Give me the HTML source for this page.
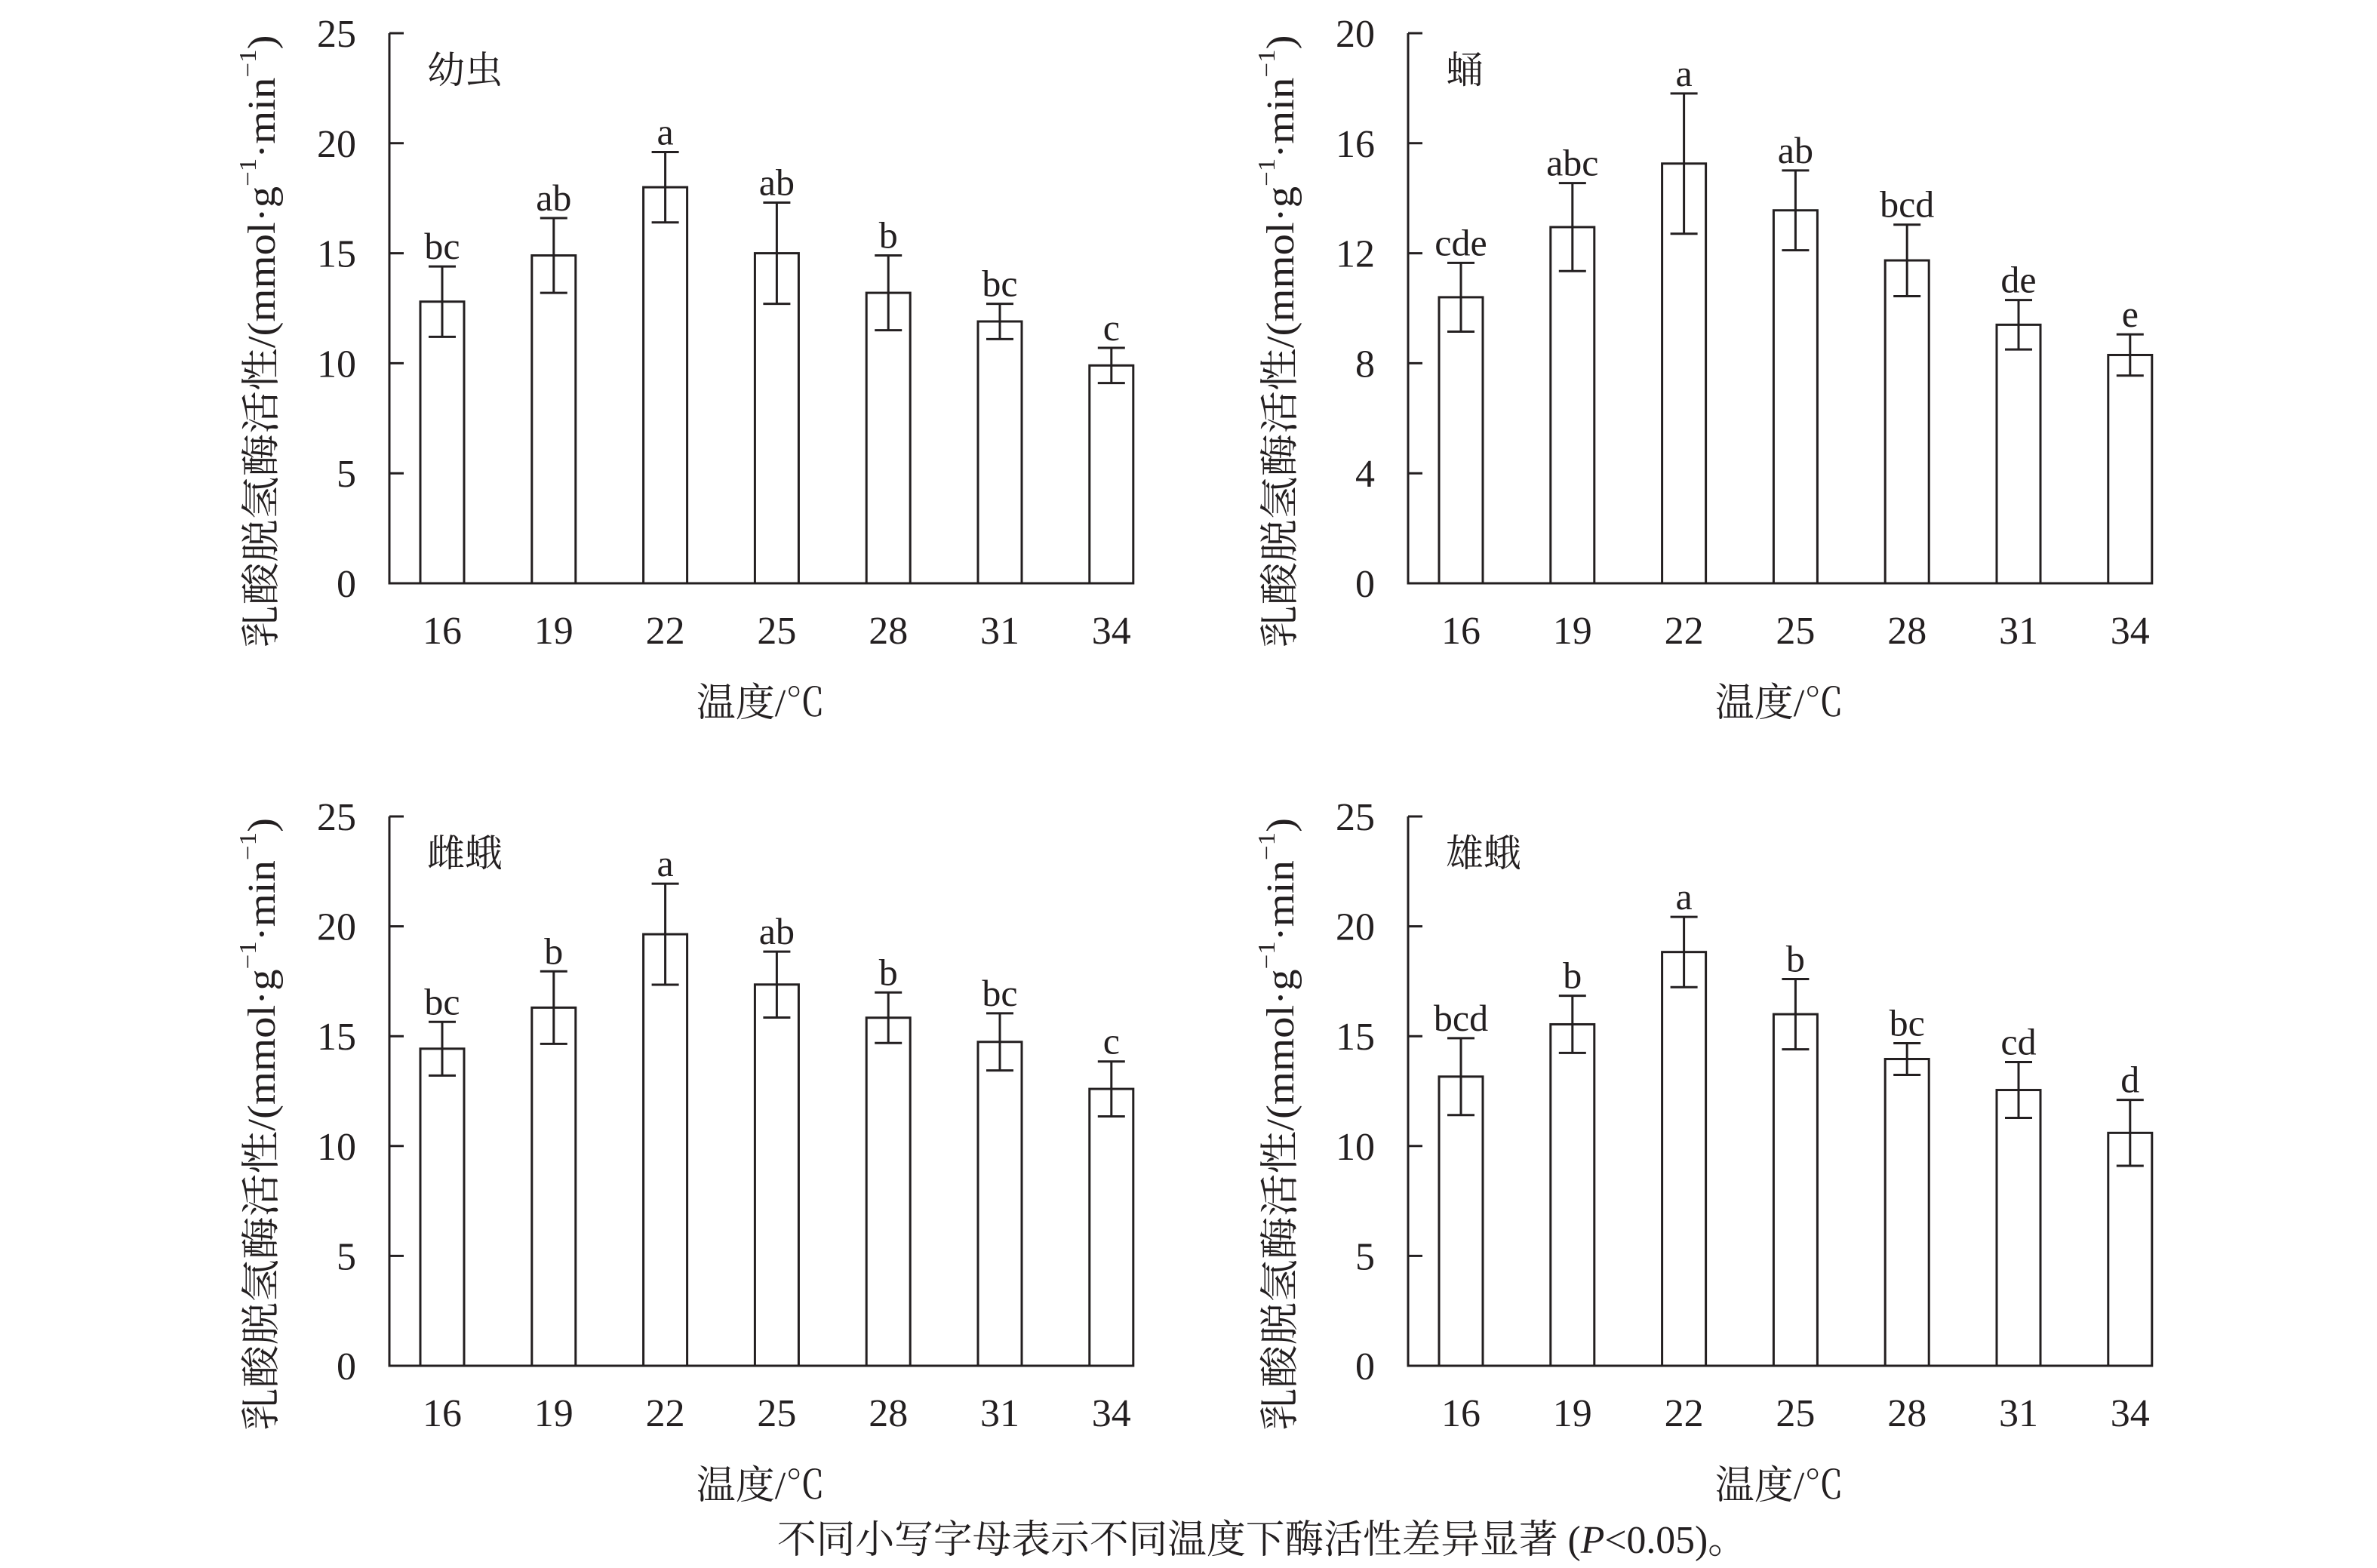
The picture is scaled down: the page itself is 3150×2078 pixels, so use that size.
<!DOCTYPE html>
<html><head><meta charset="utf-8"><style>
html,body{margin:0;padding:0;background:#fff;}
svg{display:block;}
text{font-family:"Liberation Serif","Noto Serif CJK SC",serif;fill:#231f20;}
</style></head>
<body>
<svg id="fig" width="3150" height="2078" viewBox="0 0 3150 2078" xmlns="http://www.w3.org/2000/svg">
<rect width="3150" height="2078" fill="#fff"/>
<text x="1030" y="2058" font-size="52" textLength="1285" lengthAdjust="spacingAndGlyphs">不同小写字母表示不同温度下酶活性差异显著 (<tspan font-style="italic">P</tspan>&lt;0.05)。</text>
</svg>
<script>
const categories = ["16","19","22","25","28","31","34"];
const larvaMean = [12.8,14.9,18.0,15.0,13.2,11.9,9.9];
const larvaErr  = [1.6,1.7,1.6,2.3,1.7,0.8,0.8];
const larvaSig  = ["bc","ab","a","ab","b","bc","c"];
const pupaMean = [10.4,12.95,15.26,13.56,11.74,9.4,8.3];
const pupaErr  = [1.25,1.6,2.55,1.45,1.3,0.9,0.75];
const pupaSig  = ["cde","abc","a","ab","bcd","de","e"];
const femaleMean = [14.43,16.3,19.64,17.35,15.84,14.74,12.6];
const femaleErr  = [1.22,1.65,2.3,1.5,1.15,1.3,1.25];
const femaleSig  = ["bc","b","a","ab","b","bc","c"];
const maleMean = [13.16,15.54,18.83,16.0,13.96,12.55,10.6];
const maleErr  = [1.75,1.3,1.6,1.6,0.72,1.27,1.5];
const maleSig  = ["bcd","b","a","b","bc","cd","d"];
const ticks25 = [0,5,10,15,20,25];
const ticks20 = [0,4,8,12,16,20];

const NS="http://www.w3.org/2000/svg";
const svg=document.getElementById('fig');
function mk(tag,attrs,parent){const e=document.createElementNS(NS,tag);for(const k in attrs)e.setAttribute(k,attrs[k]);(parent||svg).appendChild(e);return e;}

function panel(cfg){
  const g=mk('g',{});
  
  
  const ax=cfg.x0, right=ax+986, top=cfg.top, zero=cfg.zero, ymax=cfg.ticks[cfg.ticks.length-1];
  const yS=v=>zero-(v/ymax)*(zero-top);
  const xS=i=>ax+70+i*147.8;
  const axes=mk('path',{d:`M${ax},${top} V${zero} H${right}`,fill:'none',stroke:'#231f20','stroke-width':3},g);
  
  
  cfg.ticks.forEach(t=>{
    const y=yS(t);
    const tk=mk('line',{x1:ax,x2:ax+19,y1:y,y2:y,stroke:'#231f20','stroke-width':3},g);
    
    
    const tl=mk('text',{x:ax-44,y:y+18,'font-size':52,'text-anchor':'end'},g);
    tl.textContent=t;
    
    
  });
  categories.forEach((c,i)=>{
    const cx=xS(i), m=cfg.mean[i], e=cfg.err[i];
    const b=mk('rect',{x:cx-29,y:yS(m),width:58,height:zero-yS(m),fill:'#fff',stroke:'#231f20','stroke-width':3},g);
    
    
    const eb=mk('path',{d:`M${cx},${yS(m+e)} V${yS(m-e)} M${cx-18},${yS(m+e)} H${cx+18} M${cx-18},${yS(m-e)} H${cx+18}`,fill:'none',stroke:'#231f20','stroke-width':3},g);
    
    
    const sl=mk('text',{x:cx,y:yS(m+e)-10,'font-size':50,'text-anchor':'middle'},g);
    sl.textContent=cfg.sig[i];
    
    
    const xl=mk('text',{x:cx,y:zero+80,'font-size':52,'text-anchor':'middle'},g);
    xl.textContent=c;
    
    
  });
  const pl=mk('text',{x:ax+50,y:top+66,'font-size':50},g);
  pl.textContent=cfg.label;
  
  
  const xt=mk('text',{x:ax+492,y:zero+176,'font-size':52,'text-anchor':'middle'},g);
  xt.textContent='温度/℃';
  
  
  const cy=(top+zero)/2+44, cxl=ax-164;
  const yt=mk('text',{x:cxl,y:cy,'font-size':52,'text-anchor':'middle',transform:`rotate(-90 ${cxl} ${cy})`,textLength:812,lengthAdjust:'spacingAndGlyphs'},g);
  yt.innerHTML='乳酸脱氢酶活性/(mmol·g<tspan font-size="32" dy="-20">−1</tspan><tspan dy="20">·min</tspan><tspan font-size="32" dy="-20">−1</tspan><tspan dy="20">)</tspan>';
  yt.setAttribute('dominant-baseline','middle');
  
  
}
panel({name:'panel-larva',x0:516,top:44,zero:773,ticks:ticks25,mean:larvaMean,err:larvaErr,sig:larvaSig,label:'幼虫'});
panel({name:'panel-pupa',x0:1866,top:44,zero:773,ticks:ticks20,mean:pupaMean,err:pupaErr,sig:pupaSig,label:'蛹'});
panel({name:'panel-female-moth',x0:516,top:1082,zero:1810,ticks:ticks25,mean:femaleMean,err:femaleErr,sig:femaleSig,label:'雌蛾'});
panel({name:'panel-male-moth',x0:1866,top:1082,zero:1810,ticks:ticks25,mean:maleMean,err:maleErr,sig:maleSig,label:'雄蛾'});
</script>
</body></html>
